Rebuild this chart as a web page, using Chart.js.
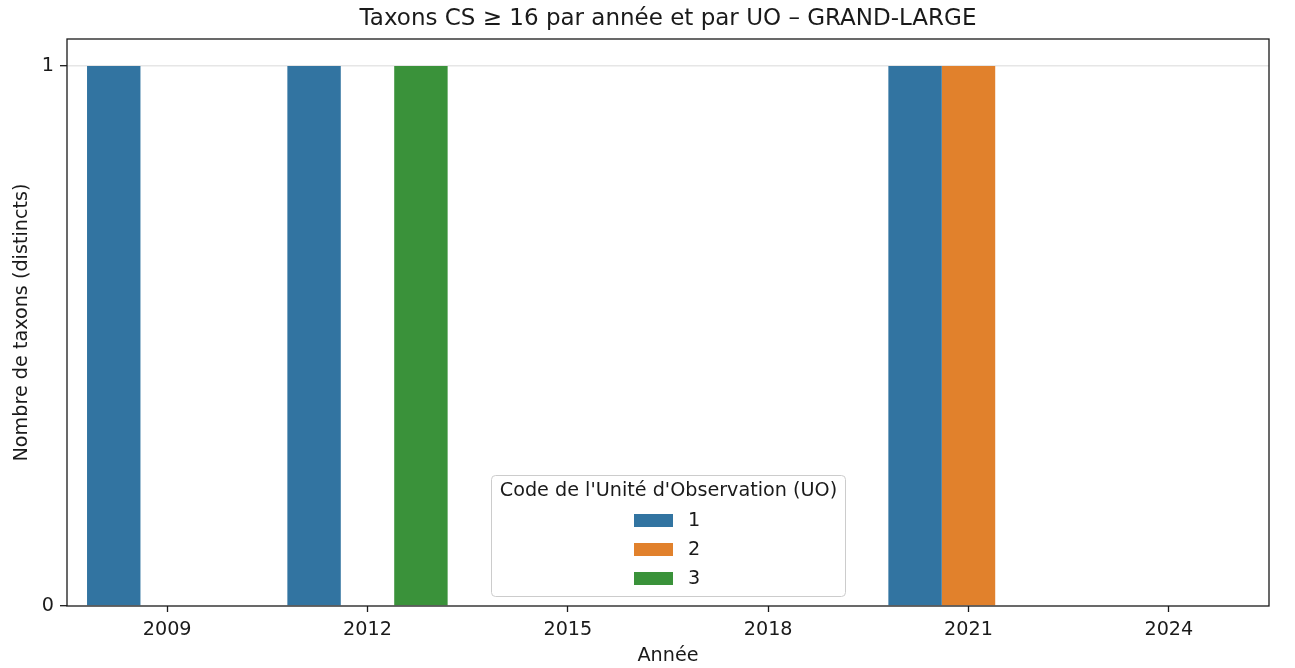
<!DOCTYPE html>
<html lang="fr">
<head>
<meta charset="utf-8">
<title>Taxons CS ≥ 16 – GRAND-LARGE</title>
<script src="https://cdn.jsdelivr.net/npm/chart.js@4.4.1/dist/chart.umd.min.js"></script>
<style>
  html, body { margin: 0; padding: 0; background: #fff; }
  #graphique { display: block; }
</style>
</head>
<body>
<canvas id="graphique" width="1295" height="668"></canvas>
<script>
  // ---------- Données ----------
  var annees = ["2009", "2012", "2015", "2018", "2021", "2024"];
  var codesUO = ["1", "2", "3"];
  var uo1 = [1, 1, 0, 0, 1, 0];
  var uo2 = [0, 0, 0, 0, 1, 0];
  var uo3 = [0, 1, 0, 0, 0, 0];
  var ticksY = [0, 1];

  var COULEURS = ["#3274a1", "#e1812c", "#3a923a"];
  var POLICE = "'DejaVu Sans', sans-serif";
  var NOIR = "#1a1a1a";
  var TAILLE = 19.2;

  // ---------- Cadre, titre et légende (style matplotlib) ----------
  var decor = {
    id: "decor",
    afterDraw: function (chart) {
      var ctx = chart.ctx, a = chart.chartArea;
      ctx.save();
      // cadre complet
      ctx.strokeStyle = NOIR;
      ctx.lineWidth = 1.3;
      ctx.strokeRect(a.left, a.top, a.right - a.left, a.bottom - a.top);

      // titre
      ctx.fillStyle = NOIR;
      ctx.textAlign = "center";
      ctx.textBaseline = "middle";
      ctx.font = "23px " + POLICE;
      ctx.fillText("Taxons CS ≥ 16 par année et par UO – GRAND-LARGE", (a.left + a.right) / 2, 19);

      // titres des axes
      ctx.font = TAILLE + "px " + POLICE;
      ctx.fillText("Année", (a.left + a.right) / 2, 656);
      ctx.save();
      ctx.translate(22, (a.top + a.bottom) / 2);
      ctx.rotate(-Math.PI / 2);
      ctx.fillText("Nombre de taxons (distincts)", 0, 0);
      ctx.restore();

      // légende
      var lx = 491.5, ly = 475.5, lw = 354, lh = 121;
      ctx.beginPath();
      ctx.roundRect(lx, ly, lw, lh, 4);
      ctx.fillStyle = "rgba(255,255,255,0.8)";
      ctx.fill();
      ctx.strokeStyle = "#cccccc";
      ctx.lineWidth = 1;
      ctx.stroke();
      ctx.fillStyle = NOIR;
      ctx.textAlign = "center";
      ctx.fillText("Code de l'Unité d'Observation (UO)", lx + lw / 2, 491);
      ctx.textAlign = "left";
      chart.data.datasets.forEach(function (ds, i) {
        var y = 520 + i * 29;
        ctx.fillStyle = ds.backgroundColor;
        ctx.fillRect(634, y - 6, 39, 13);
        ctx.fillStyle = NOIR;
        ctx.fillText(ds.label, 688, y + 1);
      });
      ctx.restore();
    }
  };

  new Chart(document.getElementById("graphique"), {
    type: "bar",
    data: {
      labels: annees,
      datasets: [uo1, uo2, uo3].map(function (serie, i) {
        return { label: codesUO[i], data: serie, backgroundColor: COULEURS[i], borderWidth: 0 };
      })
    },
    options: {
      responsive: false,
      animation: false,
      datasets: { bar: { categoryPercentage: 0.8, barPercentage: 1.0 } },
      layout: { padding: { top: 39, right: 26, left: 0, bottom: 0 } },
      plugins: { legend: { display: false }, title: { display: false }, tooltip: { enabled: false } },
      scales: {
        x: {
          afterFit: function (s) { s.height = 62; },
          grid: { offset: false, drawOnChartArea: false, tickLength: 6, tickColor: NOIR, tickWidth: 1.3 },
          border: { display: false },
          ticks: { color: NOIR, font: { family: POLICE, size: TAILLE }, padding: 6 }
        },
        y: {
          min: 0, max: 1.05,
          afterFit: function (s) { s.width = 67; },
          afterBuildTicks: function (s) { s.ticks = ticksY.map(function (v) { return { value: v }; }); },
          grid: {
            color: function (c) { return c.tick && c.tick.value === 1 ? "#e6e6e6" : "rgba(0,0,0,0)"; },
            lineWidth: 1.4, tickLength: 7, tickColor: NOIR, tickWidth: 1.3
          },
          border: { display: false },
          ticks: { color: NOIR, font: { family: POLICE, size: TAILLE }, padding: 6 }
        }
      }
    },
    plugins: [decor]
  });
</script>
</body>
</html>
